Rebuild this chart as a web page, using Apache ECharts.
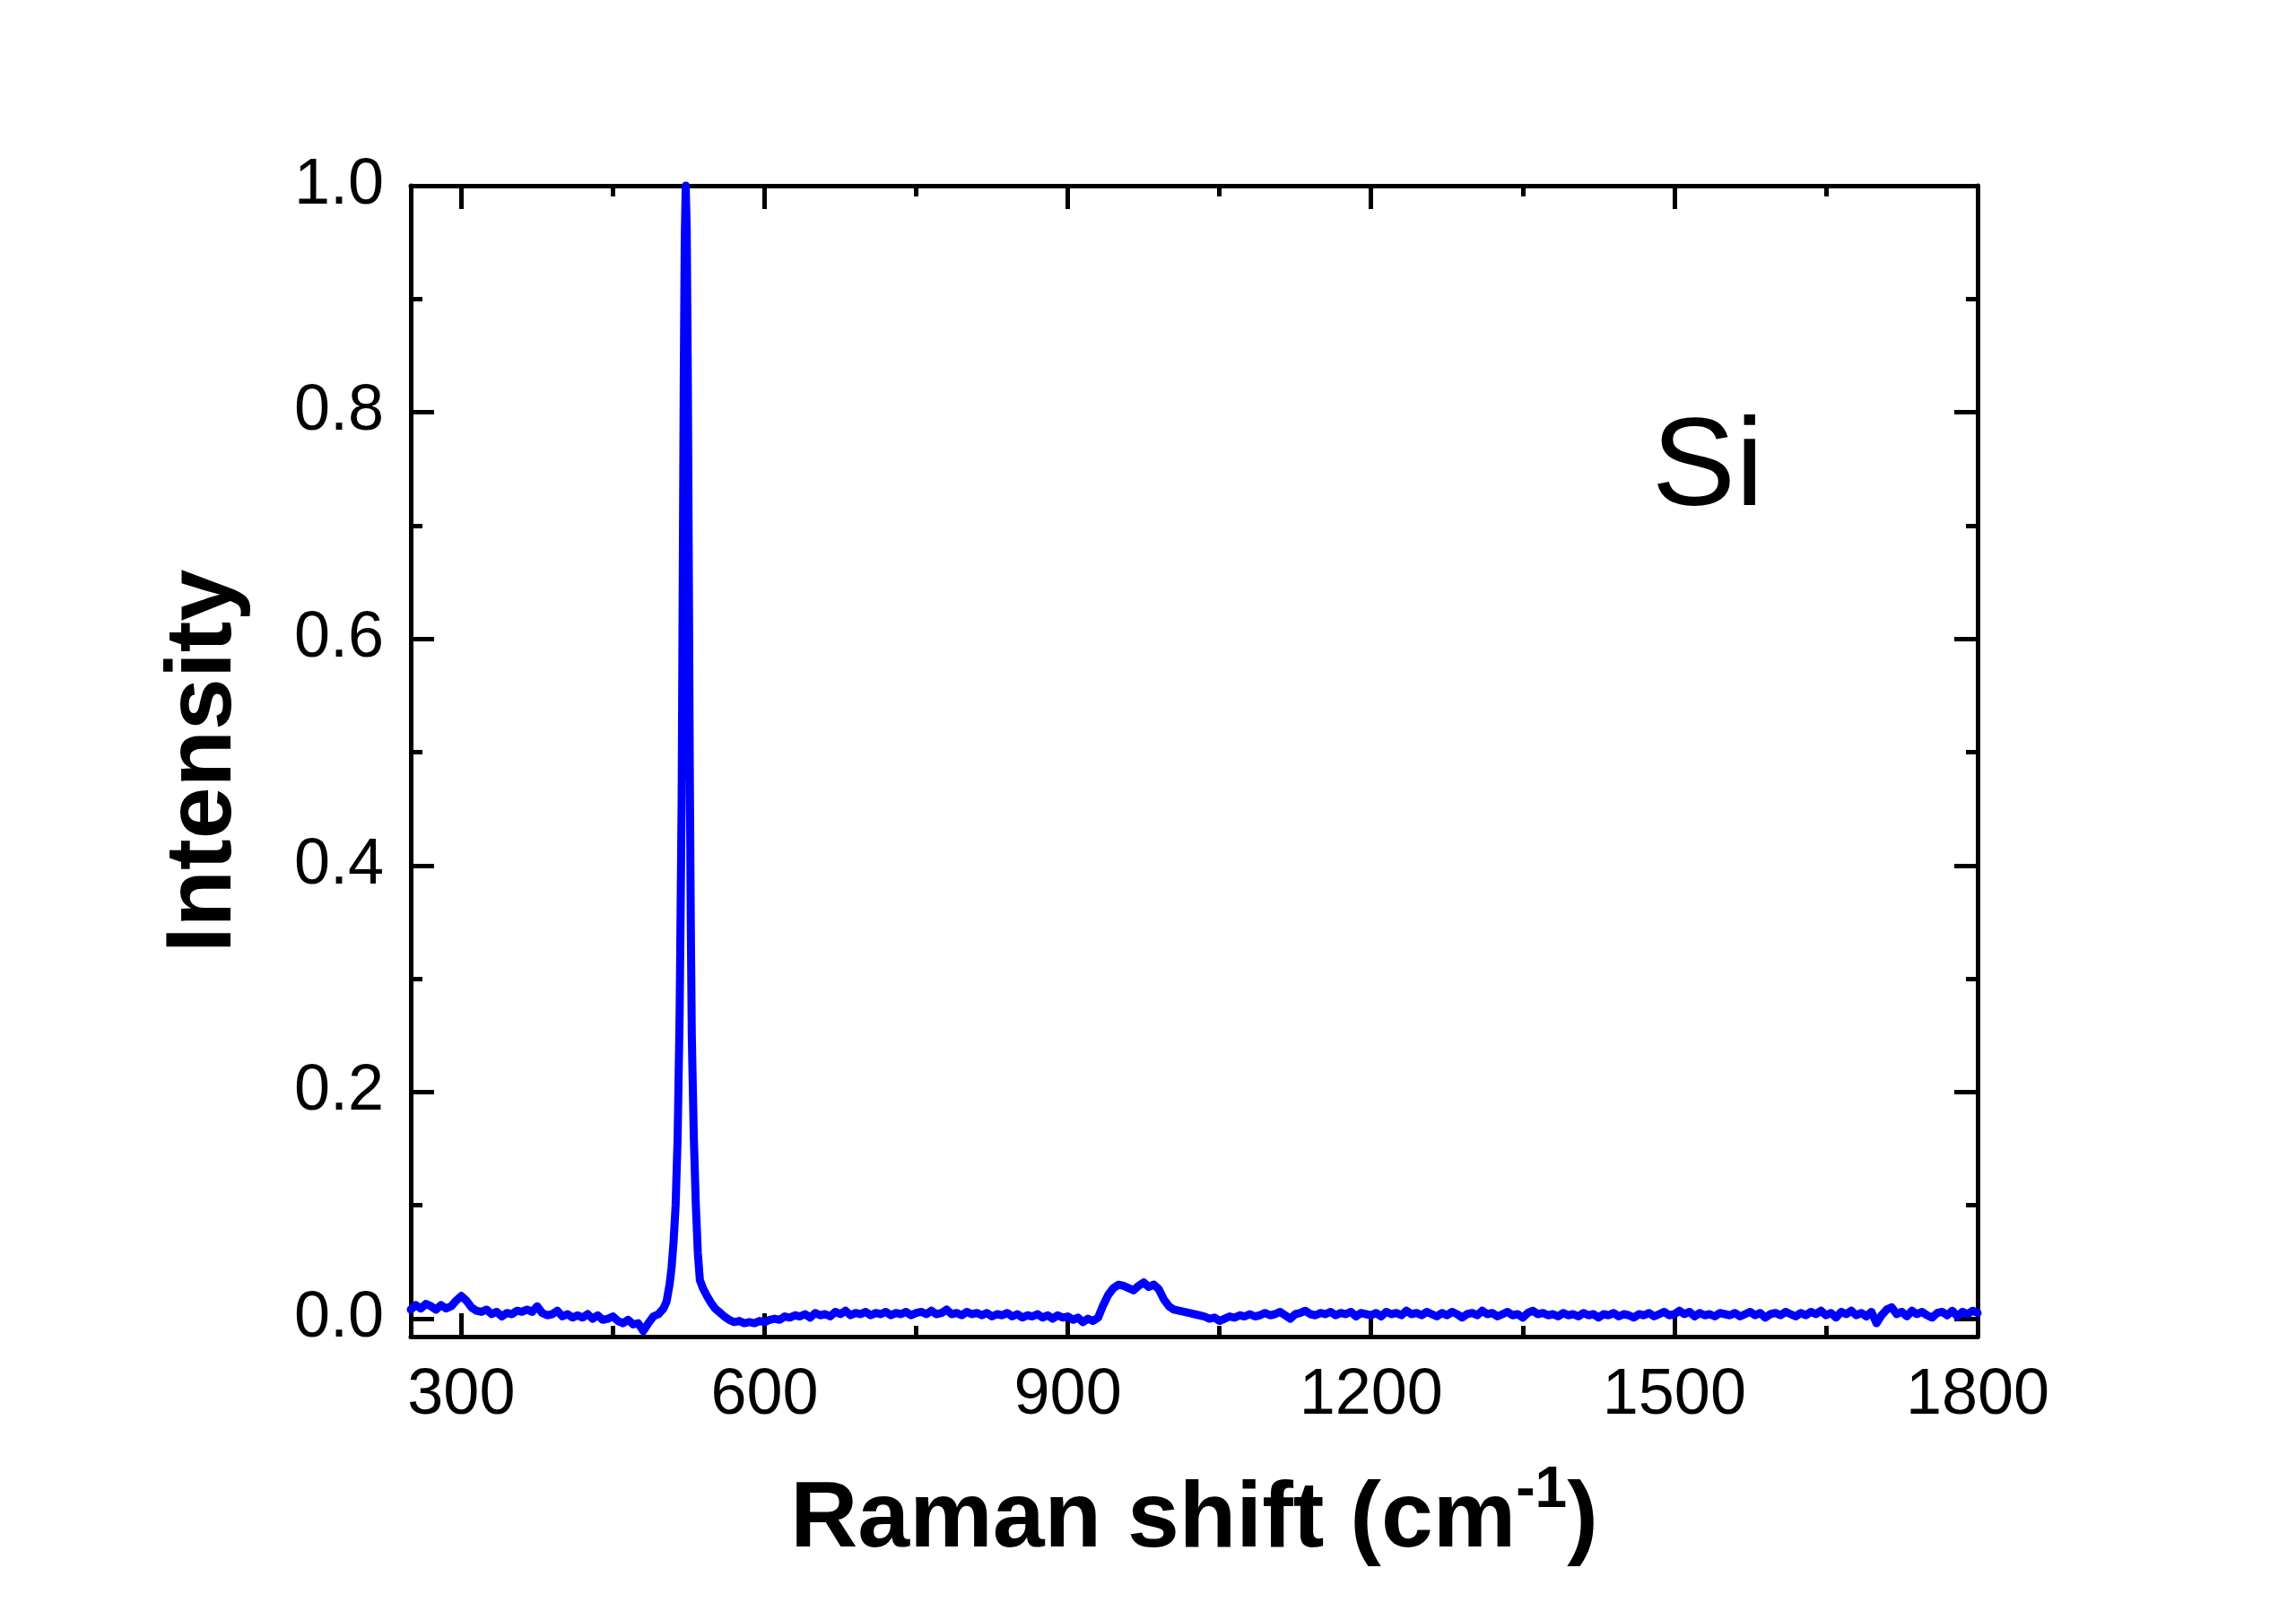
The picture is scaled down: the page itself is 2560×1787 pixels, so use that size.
<!DOCTYPE html>
<html>

<head>
    <meta charset="utf-8" />
    <title>Si Raman</title>
    <script src="https://cdn.jsdelivr.net/npm/echarts@6/dist/echarts.min.js"></script>
    <style>
        html, body { margin: 0; padding: 0; background: #fff; }
    </style>
</head>

<body>
    <div id="main" style="width: 2560px; height: 1787px;"></div>
    <script type="text/javascript">
        // spectrum, [Raman shift, intensity]
        var baselineLow = [
            [250, 0.008], [255, 0.012], [260, 0.009], [265, 0.013], [270, 0.011], [275, 0.008],
            [280, 0.012], [285, 0.009], [290, 0.011], [295, 0.016], [300, 0.020], [305, 0.016],
            [310, 0.010], [315, 0.007], [320, 0.006], [325, 0.008], [330, 0.004], [335, 0.006],
            [340, 0.002], [345, 0.005], [350, 0.004], [355, 0.007], [360, 0.006], [365, 0.008],
            [370, 0.006], [375, 0.011], [380, 0.005], [385, 0.003], [390, 0.004], [395, 0.007],
            [400, 0.002], [405, 0.004], [410, 0.001], [415, 0.003], [420, 0.001], [425, 0.004],
            [430, 0.000], [435, 0.003], [440, -0.001], [445, 0.000], [450, 0.002], [455, -0.002],
            [460, -0.004], [465, -0.001], [470, -0.005], [475, -0.004], [480, -0.011], [485, -0.004],
            [490, 0.002], [495, 0.004], [500, 0.009]
        ]
        var siPeak = [
            [503, 0.015], [506, 0.030], [508, 0.045], [510, 0.068], [512, 0.10], [514, 0.16],
            [516, 0.27], [518, 0.46], [519, 0.64], [520, 0.82], [521, 0.95], [522, 1.0],
            [523, 0.96], [524, 0.84], [525, 0.67], [526, 0.49], [527, 0.35], [528, 0.25],
            [530, 0.16], [532, 0.10], [534, 0.058], [536, 0.034], [539, 0.027], [543, 0.020],
            [547, 0.014], [551, 0.009], [555, 0.006]
        ]
        var baselineMid = [
            [560, 0.002], [565, -0.001], [570, -0.003], [575, -0.002], [580, -0.004], [585, -0.003],
            [590, -0.004], [595, -0.002], [600, -0.003], [605, -0.001], [610, 0.000], [615, -0.001],
            [620, 0.002], [625, 0.001], [630, 0.003], [635, 0.002], [640, 0.004], [645, 0.001],
            [650, 0.005], [655, 0.003], [660, 0.004], [665, 0.002], [670, 0.006], [675, 0.004],
            [680, 0.007], [685, 0.003], [690, 0.005], [695, 0.004], [700, 0.006], [705, 0.003],
            [710, 0.005], [715, 0.004], [720, 0.006], [725, 0.003], [730, 0.005], [735, 0.004],
            [740, 0.006], [745, 0.003], [750, 0.005], [755, 0.006], [760, 0.004], [765, 0.007],
            [770, 0.004], [775, 0.005], [780, 0.008], [785, 0.004], [790, 0.005], [795, 0.003],
            [800, 0.006], [805, 0.004], [810, 0.005], [815, 0.003], [820, 0.005], [825, 0.002],
            [830, 0.004], [835, 0.003], [840, 0.005], [845, 0.002], [850, 0.004], [855, 0.001],
            [860, 0.003], [865, 0.002], [870, 0.004], [875, 0.001], [880, 0.003], [885, 0.000],
            [890, 0.003], [895, 0.001], [900, 0.002], [905, -0.001], [910, 0.001], [915, -0.003],
            [920, 0.000], [925, -0.002], [930, 0.001]
        ]
        var secondOrder = [
            [935, 0.012], [940, 0.021], [945, 0.027], [950, 0.030], [955, 0.029], [960, 0.027],
            [965, 0.025], [970, 0.029], [975, 0.032], [980, 0.028], [985, 0.030], [990, 0.026],
            [995, 0.017], [1000, 0.011], [1005, 0.008], [1010, 0.007], [1015, 0.006], [1020, 0.005],
            [1025, 0.004], [1030, 0.003], [1035, 0.002], [1040, 0.000], [1045, 0.001], [1050, -0.002]
        ]
        var baselineHigh = [
            [1055, 0.000], [1060, 0.002], [1065, 0.001], [1070, 0.003], [1075, 0.002], [1080, 0.004],
            [1085, 0.002], [1090, 0.003], [1095, 0.005], [1100, 0.003], [1105, 0.004], [1110, 0.006],
            [1115, 0.003], [1120, 0.000], [1125, 0.004], [1130, 0.005], [1135, 0.007], [1140, 0.004],
            [1145, 0.003], [1150, 0.005], [1155, 0.004], [1160, 0.006], [1165, 0.003], [1170, 0.005],
            [1175, 0.004], [1180, 0.006], [1185, 0.002], [1190, 0.005], [1195, 0.004], [1200, 0.003],
            [1205, 0.005], [1210, 0.002], [1215, 0.006], [1220, 0.004], [1225, 0.005], [1230, 0.003],
            [1235, 0.007], [1240, 0.004], [1245, 0.005], [1250, 0.003], [1255, 0.006], [1260, 0.004],
            [1265, 0.002], [1270, 0.005], [1275, 0.003], [1280, 0.006], [1285, 0.004], [1290, 0.001],
            [1295, 0.004], [1300, 0.005], [1305, 0.003], [1310, 0.007], [1315, 0.004], [1320, 0.005],
            [1325, 0.002], [1330, 0.004], [1335, 0.006], [1340, 0.003], [1345, 0.004], [1350, 0.001],
            [1355, 0.005], [1360, 0.007], [1365, 0.004], [1370, 0.005], [1375, 0.003], [1380, 0.004],
            [1385, 0.002], [1390, 0.005], [1395, 0.003], [1400, 0.004], [1405, 0.002], [1410, 0.005],
            [1415, 0.003], [1420, 0.004], [1425, 0.001], [1430, 0.004], [1435, 0.003], [1440, 0.005],
            [1445, 0.002], [1450, 0.004], [1455, 0.003], [1460, 0.001], [1465, 0.004], [1470, 0.003],
            [1475, 0.005], [1480, 0.002], [1485, 0.004], [1490, 0.006], [1495, 0.003], [1500, 0.004],
            [1505, 0.007], [1510, 0.004], [1515, 0.006], [1520, 0.002], [1525, 0.005], [1530, 0.003],
            [1535, 0.004], [1540, 0.002], [1545, 0.005], [1550, 0.004], [1555, 0.003], [1560, 0.005],
            [1565, 0.002], [1570, 0.004], [1575, 0.006], [1580, 0.003], [1585, 0.005], [1590, 0.001],
            [1595, 0.004], [1600, 0.005], [1605, 0.003], [1610, 0.006], [1615, 0.004], [1620, 0.002],
            [1625, 0.005], [1630, 0.003], [1635, 0.006], [1640, 0.004], [1645, 0.007], [1650, 0.003],
            [1655, 0.005], [1660, 0.001], [1665, 0.006], [1670, 0.004], [1675, 0.007], [1680, 0.003],
            [1685, 0.005], [1690, 0.002], [1695, 0.006], [1700, -0.004], [1705, 0.003], [1710, 0.008],
            [1715, 0.010], [1720, 0.004], [1725, 0.006], [1730, 0.002], [1735, 0.007], [1740, 0.004],
            [1745, 0.006], [1750, 0.003], [1755, 0.001], [1760, 0.005], [1765, 0.006], [1770, 0.003],
            [1775, 0.007], [1780, 0.002], [1785, 0.006], [1790, 0.004], [1795, 0.007], [1800, 0.005]
        ]

        var xMajor = [300, 600, 900, 1200, 1500, 1800]
        var xMinor = [450, 750, 1050, 1350, 1650]
        var yMajor = [0, 0.2, 0.4, 0.6, 0.8, 1.0]
        var yMinor = [0.1, 0.3, 0.5, 0.7, 0.9]

        var xMin = 250, xMax = 1800
        var yMin = -0.0158, yMax = 1.0

        var font = '"Liberation Sans", Arial, sans-serif'
        var lw = 5

        var spectrum = baselineLow.concat(siPeak, baselineMid, secondOrder, baselineHigh)

        function xAxisPart(pos, ticks, len, withLine, withLabel) {
            var ax = {
                type: 'value', position: pos, min: xMin, max: xMax,
                axisLine: { show: withLine, onZero: false, lineStyle: { color: '#000', width: lw } },
                axisTick: { show: true, inside: true, length: len, customValues: ticks, lineStyle: { color: '#000', width: lw } },
                axisLabel: {
                    show: withLabel, customValues: ticks, margin: 30, fontSize: 72, color: '#000', fontFamily: font,
                    formatter: function (v) { return String(v) }
                },
                splitLine: { show: false }
            }
            return ax
        }
        function yAxisPart(pos, ticks, len, withLine, withLabel) {
            var ax = {
                type: 'value', position: pos, min: yMin, max: yMax,
                axisLine: { show: withLine, onZero: false, lineStyle: { color: '#000', width: lw } },
                axisTick: { show: true, inside: true, length: len, customValues: ticks, lineStyle: { color: '#000', width: lw } },
                axisLabel: {
                    show: withLabel, customValues: ticks, margin: 30, fontSize: 72, color: '#000', fontFamily: font,
                    formatter: function (v) { return v.toFixed(1) }
                },
                splitLine: { show: false }
            }
            return ax
        }

        var xBottom = xAxisPart('bottom', xMajor, 26, true, true)
        xBottom.name = '{m|Raman shift (cm}{s|-1}{m|)}'
        xBottom.nameLocation = 'middle'
        xBottom.nameGap = 140
        xBottom.nameTextStyle = {
            rich: {
                m: { fontSize: 104, fontWeight: 'bold', fontFamily: font, color: '#000', lineHeight: 130 },
                s: { fontSize: 64, fontWeight: 'bold', fontFamily: font, color: '#000', verticalAlign: 'top' }
            }
        }

        var yLeft = yAxisPart('left', yMajor, 26, true, true)
        yLeft.name = 'Intensity'
        yLeft.nameLocation = 'middle'
        yLeft.nameRotate = 90
        yLeft.nameGap = 178
        yLeft.nameTextStyle = { fontSize: 104, fontWeight: 'bold', fontFamily: font, color: '#000' }

        var myChart = echarts.init(document.getElementById('main'))
        var option = {
            animation: false,
            backgroundColor: '#fff',
            grid: { left: 458, right: 355, top: 207, bottom: 297, containLabel: false },
            xAxis: [
                xBottom,
                xAxisPart('bottom', xMinor, 12, false, false),
                xAxisPart('top', xMajor, 26, true, false),
                xAxisPart('top', xMinor, 12, false, false)
            ],
            yAxis: [
                yLeft,
                yAxisPart('left', yMinor, 13, false, false),
                yAxisPart('right', yMajor, 26, true, false),
                yAxisPart('right', yMinor, 13, false, false)
            ],
            graphic: [{
                type: 'text',
                x: 1904, y: 524,
                style: { text: 'Si', fontSize: 140, fontFamily: font, fill: '#000', textAlign: 'center', textVerticalAlign: 'middle' }
            }],
            series: [{
                type: 'line',
                xAxisIndex: 0,
                yAxisIndex: 0,
                data: spectrum,
                showSymbol: false,
                clip: false,
                lineStyle: { color: '#0000ff', width: 9, join: 'round', cap: 'round' }
            }]
        }
        myChart.setOption(option)
    </script>
</body>

</html>
